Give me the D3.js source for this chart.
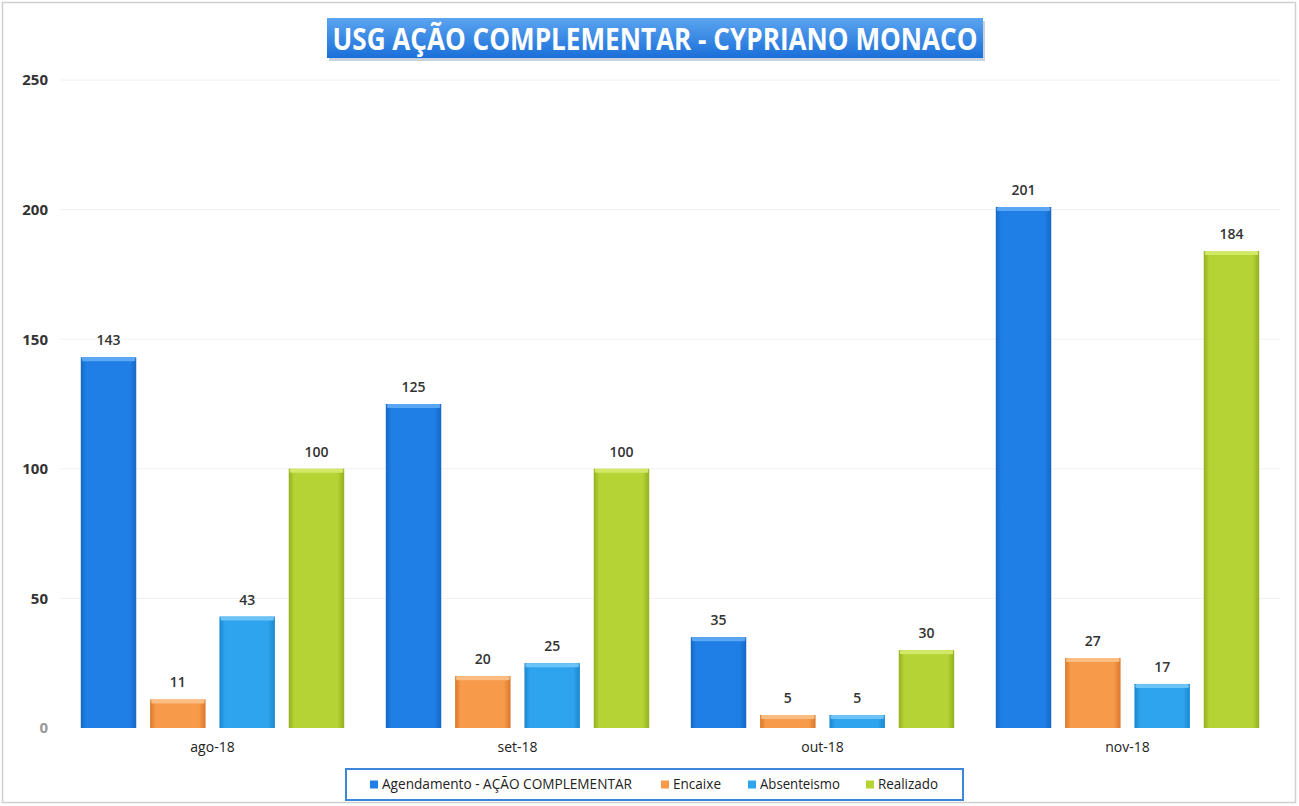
<!DOCTYPE html>
<html><head><meta charset="utf-8">
<script src="https://cdn.jsdelivr.net/npm/d3@7"></script>
<style>
body{margin:0;background:#fff;}
svg{display:block;font-family:"Open Sans",Arial,sans-serif;}
</style></head>
<body><svg id="c" width="1299" height="806"></svg>
<script>
const categories = ["ago-18","set-18","out-18","nov-18"];
const seriesNames = ["Agendamento - AÇÃO COMPLEMENTAR","Encaixe","Absenteismo","Realizado"];
const agendamento = [143,125,35,201];
const encaixe = [11,20,5,27];
const absenteismo = [43,25,5,17];
const realizado = [100,100,30,184];
const yTicks = [0,50,100,150,200,250];
const title = "USG AÇÃO COMPLEMENTAR - CYPRIANO MONACO";

const seriesValues = [agendamento, encaixe, absenteismo, realizado];
const colors = ["#1f7fe6","#f79a4a","#2ea3ee","#b5d334"];
const dark = ["#1667c4","#d9772a","#1a86cf","#93b020"];
const light = ["#5aa6f2","#fbbd82","#6cc3f6","#d2e867"];

const svg = d3.select("#c");
const W = 1299, H = 806;
const margin = {left:60, right:19, top:80, bottom:78};

svg.append("rect").attr("x",2.5).attr("y",2.5).attr("width",W-6).attr("height",H-6)
  .attr("fill","#fff").attr("stroke","#d0d0d0").attr("stroke-width",1.5);

const x0 = d3.scaleBand().domain(categories).range([margin.left, W-margin.right]).paddingInner(0).paddingOuter(0);
const x1 = d3.scaleBand().domain(seriesNames).range([0, x0.bandwidth()]).paddingInner(0.2).paddingOuter(0.3);
const y = d3.scaleLinear().domain([0,250]).range([728, 80]);

const defs = svg.append("defs");
seriesNames.forEach((s,i)=>{
  const g = defs.append("linearGradient").attr("id","g"+i).attr("x1","0").attr("x2","1").attr("y1","0").attr("y2","0");
  g.append("stop").attr("offset","0%").attr("stop-color",dark[i]);
  g.append("stop").attr("offset","10%").attr("stop-color",colors[i]);
  g.append("stop").attr("offset","88%").attr("stop-color",colors[i]);
  g.append("stop").attr("offset","100%").attr("stop-color",dark[i]);
});
const tg = defs.append("linearGradient").attr("id","tg").attr("x1","0").attr("x2","0").attr("y1","0").attr("y2","1");
tg.append("stop").attr("offset","0%").attr("stop-color","#5ba4f0");
tg.append("stop").attr("offset","100%").attr("stop-color","#1a6fd8");

svg.append("g").selectAll("line").data(yTicks.filter(d=>d>0)).join("line")
  .attr("x1",margin.left).attr("x2",W-margin.right)
  .attr("y1",d=>y(d)).attr("y2",d=>y(d))
  .attr("stroke","#f0f0f0").attr("stroke-width",1);

const yAxis = d3.axisLeft(y).tickValues(yTicks).tickSize(0).tickPadding(0);
const ya = svg.append("g").attr("transform",`translate(48,0)`).call(yAxis);
ya.select(".domain").remove();
ya.selectAll("text").attr("font-size",15).attr("font-weight","bold")
  .attr("fill",d=>d===0?"#999":"#333").attr("font-family","'Open Sans',sans-serif").attr("dy","0.32em");

const xAxis = d3.axisBottom(x0).tickSize(0).tickPadding(0);
const xa = svg.append("g").attr("transform",`translate(0,742)`).call(xAxis);
xa.select(".domain").remove();
xa.selectAll("text").attr("font-size",14).attr("fill","#222").attr("font-family","'Open Sans',sans-serif").attr("dy","0.71em");

const groups = svg.append("g").selectAll("g").data(categories).join("g")
  .attr("transform",d=>`translate(${x0(d)},0)`);
groups.each(function(cat,ci){
  const g = d3.select(this);
  seriesNames.forEach((s,si)=>{
    const v = seriesValues[si][ci];
    const bx = x1(s), bw = x1.bandwidth();
    g.append("rect").attr("x",bx).attr("y",y(v)).attr("width",bw).attr("height",y(0)-y(v))
      .attr("fill",`url(#g${si})`);
    g.append("rect").attr("x",bx+1).attr("y",y(v)).attr("width",bw-2).attr("height",4)
      .attr("fill",light[si]).attr("rx",1.5);
    g.append("text").attr("x",bx+bw/2).attr("y",y(v)-12).attr("text-anchor","middle")
      .attr("font-size",14).attr("font-family","'Open Sans',sans-serif").attr("font-weight","600")
      .attr("fill","#333").text(v);
  });
});

const tw = 656, th = 40, tx = 327, ty = 18;
svg.append("rect").attr("x",tx+2).attr("y",ty+3).attr("width",tw).attr("height",th).attr("fill","#c9d3df");
svg.append("rect").attr("x",tx).attr("y",ty).attr("width",tw).attr("height",th).attr("fill","url(#tg)");
svg.append("text").attr("x",tx+tw/2).attr("y",ty+th/2+1).attr("dy","0.35em").attr("text-anchor","middle")
  .attr("fill","#fff").attr("font-weight","bold").attr("font-size",31)
  .attr("textLength",645).attr("lengthAdjust","spacingAndGlyphs").text(title);

const lx = 346, ly = 769, lw = 617, lh = 31;
svg.append("rect").attr("x",lx).attr("y",ly).attr("width",lw).attr("height",lh)
  .attr("fill","#fff").attr("stroke","#3d86dc").attr("stroke-width",2);
const legX = [370,661,748,866];
const legW = [250,48,80,60];
const leg = svg.append("g").selectAll("g").data(seriesNames).join("g")
  .attr("transform",(d,i)=>`translate(${legX[i]},${ly+lh/2})`);
leg.append("rect").attr("x",0).attr("y",-4).attr("width",8).attr("height",8).attr("fill",(d,i)=>colors[i]);
leg.append("text").attr("x",12).attr("dy","0.35em").attr("font-size",14).attr("fill","#222")
  .attr("textLength",(d,i)=>legW[i]).attr("lengthAdjust","spacingAndGlyphs").text(d=>d);
</script></body></html>
